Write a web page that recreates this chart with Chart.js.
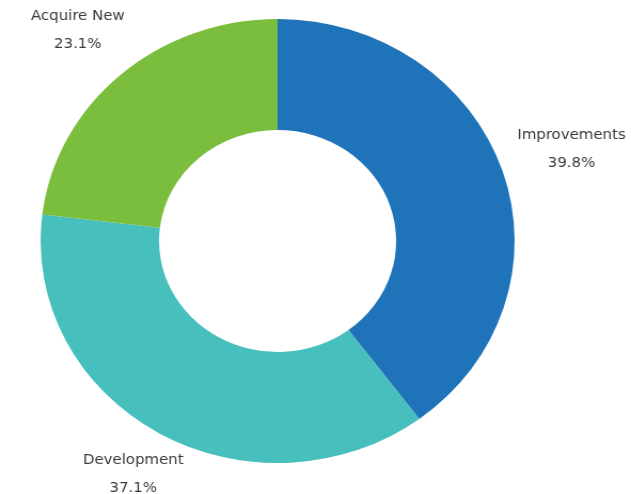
<!DOCTYPE html>
<html>
<head>
<meta charset="utf-8">
<script src="https://cdn.jsdelivr.net/npm/chart.js@4"></script>
<style>
  body { margin: 0; background: #fff; overflow: hidden; }
  /* the reference is slightly stretched horizontally */
  #wrap { width: 591px; height: 494px; transform: scaleX(1.0677); transform-origin: 0 0; }
</style>
</head>
<body>
<div id="wrap"><canvas id="chart" width="591" height="494"></canvas></div>
<script>
const categories = ["Improvements", "Development", "Acquire New"];
const shares = [39.8, 37.1, 23.1];
const sliceColors = ["#1f73b9", "#47bfbc", "#7bbe3e"];

// labels outside the ring: name + percentage
const outsideLabels = {
  id: "outsideLabels",
  afterDatasetsDraw(chart, args, opts) {
    const ctx = chart.ctx;
    const meta = chart.getDatasetMeta(0);
    ctx.save();
    ctx.font = "14px 'DejaVu Sans'";
    ctx.fillStyle = "#3a3a3a";
    ctx.textAlign = "center";
    ctx.textBaseline = "middle";
    meta.data.forEach((arc, i) => {
      const p = arc.getProps(["x", "y", "startAngle", "endAngle", "outerRadius"], true);
      const mid = (p.startAngle + p.endAngle) / 2;
      const r = p.outerRadius + opts.offsets[i];
      const x = p.x + Math.cos(mid) * r;
      const y = p.y + Math.sin(mid) * r;
      ctx.fillText(categories[i], x, y - 14);
      ctx.fillText(shares[i].toFixed(1) + "%", x, y + 14);
    });
    ctx.restore();
  }
};

new Chart(document.getElementById("chart"), {
  type: "doughnut",
  data: {
    labels: categories,
    datasets: [{
      data: shares,
      backgroundColor: sliceColors,
      borderWidth: 0
    }]
  },
  options: {
    responsive: false,
    animation: false,
    cutout: "50%",
    layout: { padding: { left: 38, right: 109, top: 19, bottom: 31 } },
    plugins: {
      legend: { display: false },
      tooltip: { enabled: false },
      outsideLabels: { offsets: [68, 48, 60] }
    }
  },
  plugins: [outsideLabels]
});
</script>
</body>
</html>
